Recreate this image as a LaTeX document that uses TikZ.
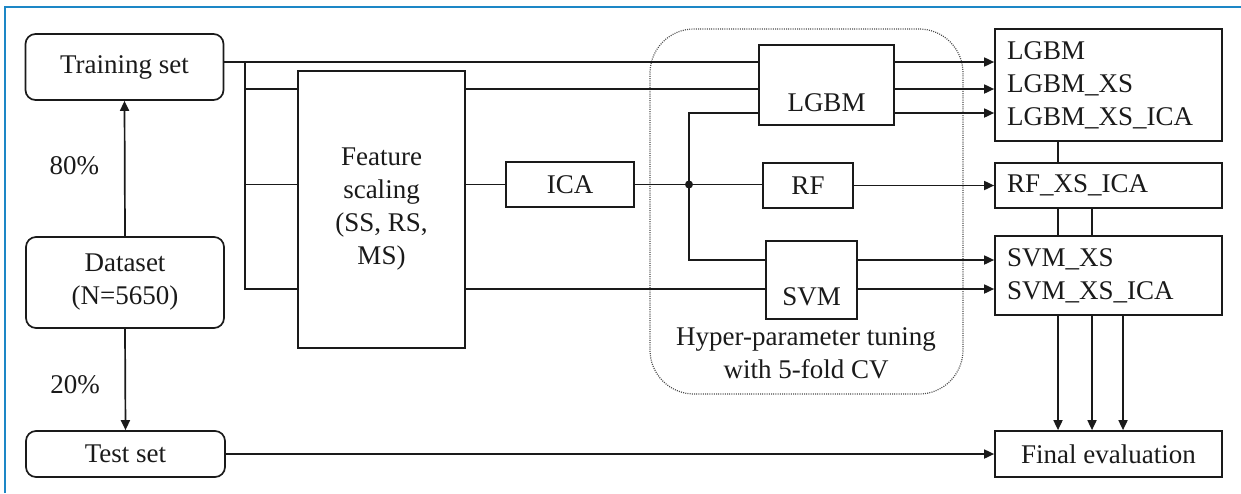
\documentclass[tikz,border=0pt]{standalone}
\usepackage{fontspec}
\setmainfont{Liberation Serif}
\newfontfamily\diagfont{Liberation Serif}
\usetikzlibrary{arrows.meta}
\definecolor{framecol}{HTML}{1D87C6}
\definecolor{ink}{HTML}{1A1A1A}
\tikzset{
  txt/.style={font=\diagfont\fontsize{13.5pt}{16.5pt}\selectfont, text=ink},
  box/.style={txt, draw=ink, line width=0.85pt, inner sep=0pt, align=center},
  rbox/.style={box, rounded corners=5pt},
  resbox/.style={txt, draw=ink, line width=0.85pt, inner xsep=6pt, inner ysep=0pt,
                 text width=101.5pt, align=left},
  wire/.style={draw=ink, line width=0.85pt},
  flow/.style={wire, -{Triangle[length=5pt,width=4.5pt]}},
  cvbox/.style={draw=black!70, line width=0.6pt, dash pattern=on 0.5pt off 0.6pt, rounded corners=22pt},
}
\begin{document}
\begin{tikzpicture}[x=0.5pt, y=-0.5pt]
\useasboundingbox (0,0) rectangle (1241,493);

% frame edges
\draw[framecol, line width=1.1pt] (5,493) -- (5,7) -- (1241,7);

% tuning region
\node[cvbox, minimum width=156.5pt, minimum height=182.5pt] (cv) at (806.5,211.5) {};
\node[txt, align=center] (cvtext) at (806,353) {Hyper-parameter tuning\\with 5-fold CV};

% data split
\node[rbox, minimum width=99pt, minimum height=33pt] (train) at (124.5,67) {Training set};
\node[rbox, minimum width=99pt, minimum height=45.5pt] (data) at (125,282.5) {Dataset\\(N=5650)};
\node[rbox, minimum width=99.5pt, minimum height=23pt] (test) at (125.5,454) {Test set};

% preprocessing
\node[box, minimum width=83.5pt, minimum height=138.5pt] (fs) at (381.5,209.5) {Feature\\scaling\\(SS, RS,\\MS)};
\node[box, minimum width=64pt, minimum height=22.5pt] (ica) at (570,184.5) {ICA};

% models
\node[box, minimum width=67.5pt, minimum height=40pt,
      label={[txt, yshift=-9pt]center:LGBM}] (lgbm) at (826.5,85) {};
\node[box, minimum width=45pt, minimum height=22.5pt] (rf) at (808,185.5) {RF};
\node[box, minimum width=45.5pt, minimum height=39pt,
      label={[txt, yshift=-8.5pt]center:SVM}] (svm) at (811.5,280) {};

% results
\node[resbox, minimum height=56pt] (r1) at (1108.5,85) {LGBM\\LGBM\_XS\\LGBM\_XS\_ICA};
\node[resbox, minimum height=22.5pt] (r2) at (1108.5,185.5) {RF\_XS\_ICA};
\node[resbox, minimum height=39.5pt] (r3) at (1108.5,275.5) {SVM\_XS\\SVM\_XS\_ICA};
\node[box, minimum width=113.5pt, minimum height=23pt] (fin) at (1108.5,454) {Final evaluation};

% split arrows
\draw[flow] (data.north) -- node[txt, pos=0.52, left=9pt] {80\%} (train.south);
\draw[flow] (data.south) -- node[txt, pos=0.55, left=9pt] {20\%} (test.north);

% feed lines
\coordinate (j1) at (245,62);
\coordinate (b1) at (245,89);
\coordinate (b2) at (245,184.5);
\coordinate (b3) at (245,289);
\coordinate (u1) at (689,113);
\coordinate (u2) at (689,260);
\coordinate (jn) at (689,184.5);

\draw[wire] (train.east |- j1) -- (lgbm.west |- j1);
\draw[wire] (j1) -- (b3) -- (fs.west |- b3);
\draw[wire] (b1) -- (fs.west |- b1);
\draw[wire] (b2) -- (fs.west |- b2);

\draw[wire] (fs.east |- b1) -- (lgbm.west |- b1);
\draw[wire] (fs.east |- b2) -- (ica.west);
\draw[wire] (fs.east |- b3) -- (svm.west |- b3);

\draw[wire] (ica.east) -- (jn) -- (rf.west |- jn);
\draw[wire] (lgbm.west |- u1) -- (u1) -- (u2) -- (svm.west |- u2);
\fill[ink] (jn) circle (2pt);

% model outputs
\draw[flow] (lgbm.east |- j1) -- (r1.west |- j1);
\draw[flow] (lgbm.east |- b1) -- (r1.west |- b1);
\draw[flow] (lgbm.east |- u1) -- (r1.west |- u1);
\draw[flow] (rf.east) -- (r2.west |- rf.east);
\draw[flow] (svm.east |- u2) -- (r3.west |- u2);
\draw[flow] (svm.east |- b3) -- (r3.west |- b3);

% result links
\coordinate (v1) at (1058,0);
\coordinate (v2) at (1092,0);
\coordinate (v3) at (1123,0);
\draw[wire] (r1.south -| v1) -- (r2.north -| v1);
\draw[wire] (r2.south -| v1) -- (r3.north -| v1);
\draw[wire] (r2.south -| v2) -- (r3.north -| v2);
\draw[flow] (r3.south -| v1) -- (fin.north -| v1);
\draw[flow] (r3.south -| v2) -- (fin.north -| v2);
\draw[flow] (r3.south -| v3) -- (fin.north -| v3);

\draw[flow] (test.east) -- (fin.west);
\end{tikzpicture}
\end{document}
